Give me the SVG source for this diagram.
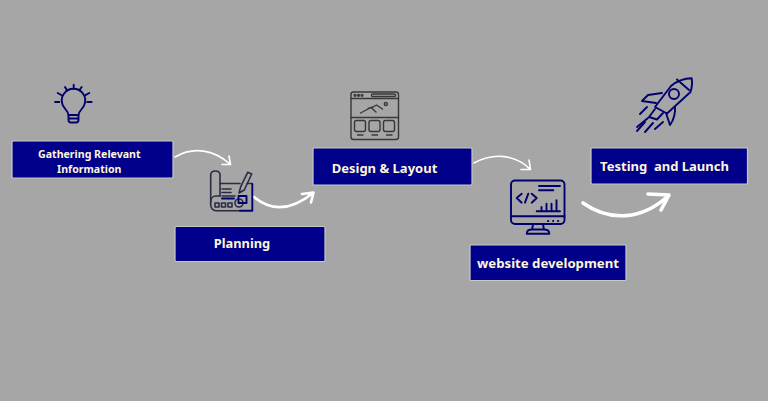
<svg xmlns="http://www.w3.org/2000/svg" width="768" height="401" viewBox="0 0 768 401">
<style>
.box{fill:#00008b;stroke:#c8c8c8;stroke-width:1.2}
.t{font-family:"Noto Sans","Liberation Sans",sans-serif;font-weight:700;fill:#fdf6dc;text-anchor:middle}
.blue{fill:none;stroke:#00006e;stroke-width:1.9;stroke-linecap:round;stroke-linejoin:round}
.dark{fill:none;stroke:#2b2b44;stroke-width:1.6;stroke-linecap:round;stroke-linejoin:round}
.gray{fill:none;stroke:#383838;stroke-width:1.4;stroke-linecap:round;stroke-linejoin:round}
.a1{fill:none;stroke:#fff;stroke-width:1.6;stroke-linecap:round;stroke-linejoin:round}
.a2{fill:none;stroke:#fff;stroke-width:2.6;stroke-linecap:round;stroke-linejoin:round}
.a3{fill:none;stroke:#fff;stroke-width:3.6;stroke-linecap:round;stroke-linejoin:round}
</style>
<rect width="768" height="401" fill="#a6a6a6"/>
<g id="connectors">
<path class="a1" d="M175 157C194 146 214 150 230 164M222 164.500L230.500 164.500L229 156"/>
<path class="a2" d="M254 197C272 212 292 210 313 193M302 194L313.500 192.500L311 202.500"/>
<path class="a1" d="M474 163C494 152 516 155 530 169M521 169.500L530.500 169.500L529 160"/>
<path class="a3" d="M583 203C610 222 642 220 668 196M648 194L669 195L661 210"/>
</g>
<g id="node-gathering">
<rect class="box" x="12" y="141" width="161" height="37" rx="1"/>
<text class="t" font-size="10.600" x="89.300" y="158">Gathering Relevant</text>
<text class="t" font-size="10.600" x="89.300" y="173">Information</text>
<g id="icon-bulb">
<path class="blue" d="M68.500 115C68.500 111 64 109 62.500 104.500A11.700 11.700 0 1 1 84.500 104.500C83 109 78.500 111 78.500 115Z"/>
<path class="blue" d="M68.500 115H78.500V120C78.500 121.500 77.500 122.500 76 122.500H71C69.500 122.500 68.500 121.500 68.500 120ZM68.500 118.500H78.500"/>
<path class="blue" d="M73.700 84.700V88.700M65 87L67 90.300M57.700 93L61.700 95.300M55 102H59.300M81.700 87L79.300 90.300M89.300 93L85 95.300M91.700 102H87.300"/>
</g>
</g>
<g id="node-planning">
<rect class="box" x="175" y="226.500" width="150" height="35" rx="1"/>
<text class="t" font-size="12.800" x="242" y="247.500">Planning</text>
<g id="icon-plan">
<path class="dark" d="M220 196V175C220 172 218 171 215.500 171C213 171 210.700 172 210.700 175V205C210.700 208 213 210.700 216 210.700H240"/>
<path class="dark" d="M220 196H216C212.500 196 210.700 199 210.700 202"/>
<path class="dark" d="M220 183.500H240M247 183.500H252"/>
<path class="blue" d="M240 210.700H252.300V184"/>
<path class="dark" d="M240.700 186.700L247.700 172.300L251.700 174L244.300 190L239 193Z"/>
<path class="dark" d="M222 189H231M222 192.500H231M222 196H235"/>
<path class="blue" d="M222 198.500H234" stroke-width="1.300"/>
<path class="dark" d="M215 203h4v4h-4zM221.500 203h4v4h-4zM228 203h4v4h-4z"/>
<circle class="dark" cx="239" cy="203" r="4"/>
<rect class="blue" x="238.500" y="196" width="8" height="7" stroke-width="1.300"/>
</g>
</g>
<g id="node-design">
<rect class="box" x="313" y="148" width="159" height="37" rx="1"/>
<text class="t" font-size="13" x="384.500" y="173">Design &amp; Layout</text>
<g id="icon-layout">
<rect class="gray" x="351" y="92" width="47.500" height="47.500" rx="2.500"/>
<path class="gray" d="M351 98.500H398.500M351 117.500H398.500"/>
<circle class="gray" cx="355" cy="95.300" r="0.900"/><circle class="gray" cx="358.500" cy="95.300" r="0.900"/><circle class="gray" cx="362" cy="95.300" r="0.900"/>
<rect class="gray" x="371.500" y="94" width="24" height="2.500" rx="1"/>
<path class="gray" d="M360.500 113L371 107.500L376 112M368 108.500L373 107L376.500 105L382.500 109"/>
<circle class="gray" cx="385.800" cy="104" r="1.500"/>
<rect class="gray" x="354.500" y="120.500" width="11" height="11" rx="2"/>
<rect class="gray" x="369" y="120.500" width="11" height="11" rx="2"/>
<rect class="gray" x="383.500" y="120.500" width="11" height="11" rx="2"/>
<path d="M357 134h6.500v2h-6.500zM371.500 134h6.500v2h-6.500zM386 134h6.500v2h-6.500z" fill="#555"/>
</g>
</g>
<g id="node-website">
<rect class="box" x="470" y="245" width="156" height="35.500" rx="1"/>
<text class="t" font-size="13.200" x="548" y="267.500">website development</text>
<g id="icon-monitor">
<rect class="blue" x="511" y="180.500" width="53.500" height="43.500" rx="4"/>
<path class="blue" d="M511 216.300H564.500M533 224.500L532 229.500H544L543 224.500M526.700 233.700H549.300C549.300 231 547 229.500 544 229.500H532C529 229.500 526.700 231 526.700 233.700Z"/>
<path class="blue" d="M539 186H560M539 190.300H553.300M521.700 193.700L516.700 198L521.700 202.700M531.700 193.700L536.700 198L531.700 202.700M528.300 193.700L525 202.700"/>
<path class="blue" d="M536.700 211.300H560M541.500 211.300V207M546.500 211.300V203.700M551.500 211.300V203.700M556.500 211.300V200.300" stroke-width="1.600"/>
<path class="blue" d="M548 221h.3M553 221h.3M558 221h.3"/>
</g>
</g>
<g id="node-testing">
<rect class="box" x="591" y="148" width="156.500" height="36" rx="1"/>
<text class="t" font-size="13" x="664.500" y="170.500" xml:space="preserve">Testing  and Launch</text>
<g id="icon-rocket">
<path class="blue" d="M655 107L671 86C677 81 684 78.500 691.700 78.300C692.500 83 692 87 690.500 92L667 113.500Z"/>
<path class="blue" d="M677 79.500L689 90"/>
<circle class="blue" cx="674" cy="94" r="5"/>
<path class="blue" d="M662 93L648 95L642 101L656 103"/>
<path class="blue" d="M675 107C675.500 112 674 120 670 125L666 113"/>
<path class="blue" d="M655 109L649 117L657 119.500L663 113"/>
<path class="blue" d="M647 107L640 114M648 118L637 127M645 122L637 131M653 123L645 132M663 122L655 129"/>
</g>
</g>
</svg>
